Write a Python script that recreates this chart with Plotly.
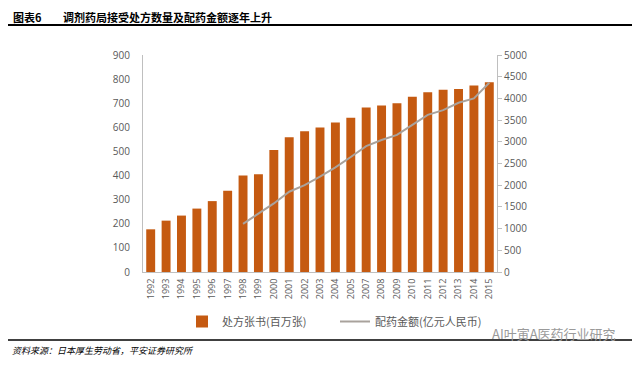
import plotly.graph_objects as go

years = ["1992","1993","1994","1995","1996","1997","1998","1999","2000","2001","2002",
         "2003","2004","2005","2007","2008","2009","2010","2011","2012","2013","2014","2015"]
prescriptions = [177, 213, 234, 263, 294, 337, 400, 405, 506, 559, 584,
                 599, 620, 640, 682, 691, 700, 727, 745, 756, 759, 773, 787]
line_years = ["1998","1999","2000","2001","2002","2003","2004","2005","2007","2008",
              "2009","2010","2011","2012","2013","2014","2015"]
amounts = [1110, 1350, 1580, 1850, 2000, 2200, 2410, 2650, 2900, 3040,
           3160, 3390, 3620, 3730, 3900, 4000, 4360]

left_ticks = [0, 100, 200, 300, 400, 500, 600, 700, 800, 900]
right_ticks = [0, 500, 1000, 1500, 2000, 2500, 3000, 3500, 4000, 4500, 5000]

# page body has an 8px margin, so the figure starts at (8, 8) on screen
OX, OY = 8, 8
L, R, T, B = 143, 497, 55, 272
W, H = R - L, B - T
def px(x): return (x - L) / W
def py(y): return (B - y) / H

CJK = "Noto Sans CJK SC"
fig = go.Figure()
fig.add_trace(go.Bar(x=years, y=prescriptions, name="处方张书(百万张)",
                     marker=dict(color="#C55A11", line=dict(width=0))))
fig.add_trace(go.Scatter(x=line_years, y=amounts, name="配药金额(亿元人民币)", yaxis="y2",
                         mode="lines", line=dict(color="#A9A29C", width=2)))

fig.update_layout(
    width=640 - OX, height=365 - OY,
    margin=dict(l=L - OX, r=640 - R, t=T - OY, b=365 - B, autoexpand=False),
    paper_bgcolor="white", plot_bgcolor="white",
    bargap=0.42,
    font=dict(family=CJK, color="#595959", size=10),
    xaxis=dict(type="category", tickangle=-90, showline=True, linecolor="#BFBFBF",
               ticks="", tickfont=dict(size=9, family="Open Sans", color="#595959"), ticklabelstandoff=2),
    yaxis=dict(range=[0, 900], tickvals=left_ticks, showgrid=False, showline=True,
               linecolor="#BFBFBF", ticks="", tickfont=dict(size=10, family="Open Sans"),
               zeroline=False, ticklabelstandoff=10),
    yaxis2=dict(range=[0, 5000], tickvals=right_ticks, overlaying="y", side="right",
                showgrid=False, showline=True, linecolor="#BFBFBF", ticks="outside",
                ticklen=4, tickcolor="#BFBFBF", tickfont=dict(size=10, family="Open Sans"),
                zeroline=False),
    legend=dict(orientation="h", x=px(182), xanchor="left", y=py(307), yanchor="top",
                font=dict(size=11, family=CJK, color="#595959"), entrywidth=108,
                itemwidth=30, bgcolor="rgba(0,0,0,0)"),
    showlegend=True,
)

fig.add_annotation(xref="paper", yref="paper", x=px(12), y=py(8), text="<b>图表6</b>",
                   showarrow=False, xanchor="left", yanchor="top", borderpad=0,
                   font=dict(family=CJK, size=11, color="#000000"))
fig.add_annotation(xref="paper", yref="paper", x=px(62), y=py(8),
                   text="<b>调剂药局接受处方数量及配药金额逐年上升</b>",
                   showarrow=False, xanchor="left", yanchor="top", borderpad=0,
                   font=dict(family=CJK, size=11, color="#000000"))
fig.add_annotation(xref="paper", yref="paper", x=px(10), y=py(350),
                   text="<i>资料来源：日本厚生劳动省，平安证券研究所</i>",
                   showarrow=False, xanchor="left", yanchor="middle",
                   font=dict(family=CJK, size=9, color="#000000"))
fig.add_annotation(xref="paper", yref="paper", x=px(618), y=py(333),
                   text="AI叶寅A医药行业研究",
                   showarrow=False, xanchor="right", yanchor="middle",
                   font=dict(family=CJK, size=13, color="#9A9A9A"))
fig.add_shape(type="line", xref="paper", yref="paper", x0=px(8), x1=px(632),
              y0=py(25), y1=py(25), line=dict(color="#000000", width=2))
fig.add_shape(type="line", xref="paper", yref="paper", x0=px(8), x1=px(632),
              y0=py(340), y1=py(340), line=dict(color="#000000", width=1.5))

fig.write_html("out.html")
